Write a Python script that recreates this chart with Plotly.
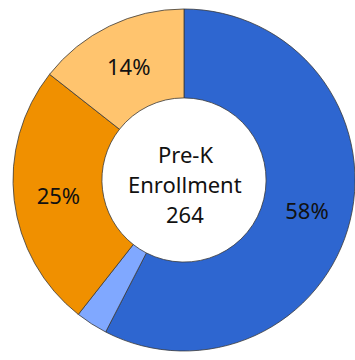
import plotly.graph_objects as go

# Pre-K enrollment split into four groups (counts)
groups = ["Group A", "Group B", "Group C", "Group D"]
counts = [152, 8, 66, 38]
colors = ["#2E66D0", "#80A8FF", "#F09000", "#FFC46E"]
center_lines = ["Pre-K", "Enrollment", str(sum(counts))]

total = sum(counts)
# hide the label on slices too thin to hold text
templates = ["%{percent:.0%}" if c / total >= 0.05 else "" for c in counts]

fig = go.Figure(
    go.Pie(
        labels=groups,
        values=counts,
        hole=0.48,
        sort=False,
        direction="clockwise",
        rotation=0,
        marker=dict(colors=colors, line=dict(color="#3a3a3a", width=0.8)),
        texttemplate=templates,
        textposition="inside",
        insidetextorientation="horizontal",
        textfont=dict(family="Noto Sans", size=22, color="#111111"),
        showlegend=False,
        domain=dict(x=[13 / 355, 1.0], y=[0.025, 0.975]),
    )
)

# centre caption, one annotation per line for even spacing
for i, line in enumerate(center_lines):
    fig.add_annotation(
        x=185 / 355,
        y=0.572 - i * 0.0833,
        xref="paper",
        yref="paper",
        text=line,
        showarrow=False,
        font=dict(family="Noto Sans", size=22, color="#111111"),
        xanchor="center",
        yanchor="middle",
    )

fig.update_layout(
    width=355,
    height=360,
    margin=dict(l=0, r=0, t=0, b=0),
    paper_bgcolor="white",
    plot_bgcolor="white",
)

fig.write_html("out.html")
